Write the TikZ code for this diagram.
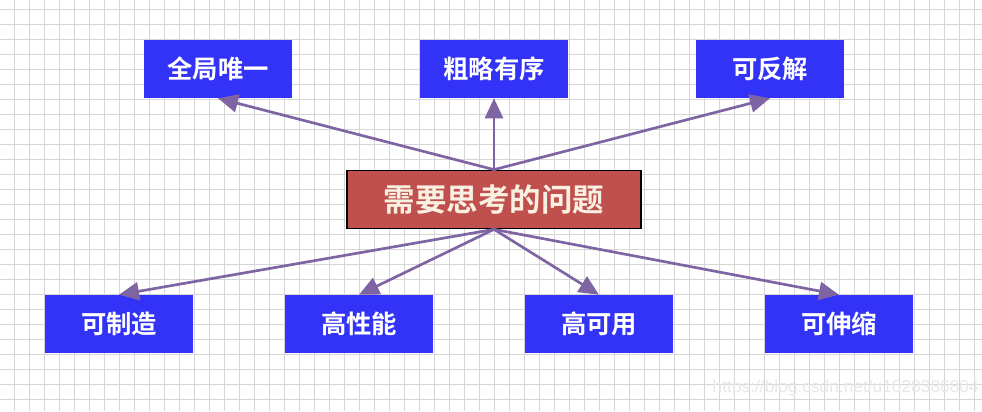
\documentclass[tikz,border=0pt]{standalone}
\usepackage{fontspec}
\newfontfamily\cjk{Noto Sans CJK SC}[BoldFont={Noto Sans CJK SC Bold}]
\newfontfamily\wmfont{Liberation Sans}
\usetikzlibrary{arrows.meta}
\definecolor{boxblue}{HTML}{3333F8}
\definecolor{boxred}{HTML}{C0504D}
\definecolor{arrowpurple}{HTML}{7E64A3}
\definecolor{gridgray}{HTML}{D6D6D6}
\definecolor{centertext}{HTML}{FAF0E2}
\tikzset{
  gridline/.style={draw=gridgray, line width=0.75pt},
  bluebox/.style={rectangle, fill=boxblue, minimum width=111pt, minimum height=43.5pt, inner sep=0pt, text=white, font=\cjk\bfseries\fontsize{19pt}{21pt}\selectfont},
  redbox/.style={rectangle, fill=boxred, draw=black, line width=0.8pt, minimum width=220.5pt, minimum height=44pt, inner sep=0pt, text=centertext, font=\cjk\bfseries\fontsize{23.6pt}{26pt}\selectfont},
  conn/.style={draw=arrowpurple, line width=2pt, -{Triangle[length=15pt, width=13.5pt]}},
  watermark/.style={text=black!9, font=\wmfont\fontsize{13pt}{15pt}\selectfont, inner sep=0pt, anchor=east}
}
\begin{document}
\begin{tikzpicture}[x=0.75pt, y=-0.75pt]
\useasboundingbox (0,0) rectangle (982,411);
\fill[white] (0,0) rectangle (982,411);
\foreach \i in {0,...,64} \draw[gridline] ({14+15*\i},0) -- ({14+15*\i},411);
\foreach \j in {0,...,26} \draw[gridline] (0,{9+15*\j}) -- (982,{9+15*\j});

\node[redbox] (c) at (494,199.5) {需要思考的问题};
\node[bluebox] (t1) at (218,69) {全局唯一};
\node[bluebox] (t2) at (494,69) {粗略有序};
\node[bluebox] (t3) at (770,69) {可反解};
\node[bluebox] (b1) at (119,324) {可制造};
\node[bluebox] (b2) at (359,324) {高性能};
\node[bluebox] (b3) at (599,324) {高可用};
\node[bluebox] (b4) at (839,324) {可伸缩};

\draw[conn] (c.north) -- (t1.south);
\draw[conn] (c.north) -- (t2.south);
\draw[conn] (c.north) -- (t3.south);
\draw[conn] (c.south) -- (b1.north);
\draw[conn] (c.south) -- (b2.north);
\draw[conn] (c.south) -- (b3.north);
\draw[conn] (c.south) -- (b4.north);

\node[watermark] (wm) at (979,388) {https://blog.csdn.net/u1028386804};
\end{tikzpicture}
\end{document}
